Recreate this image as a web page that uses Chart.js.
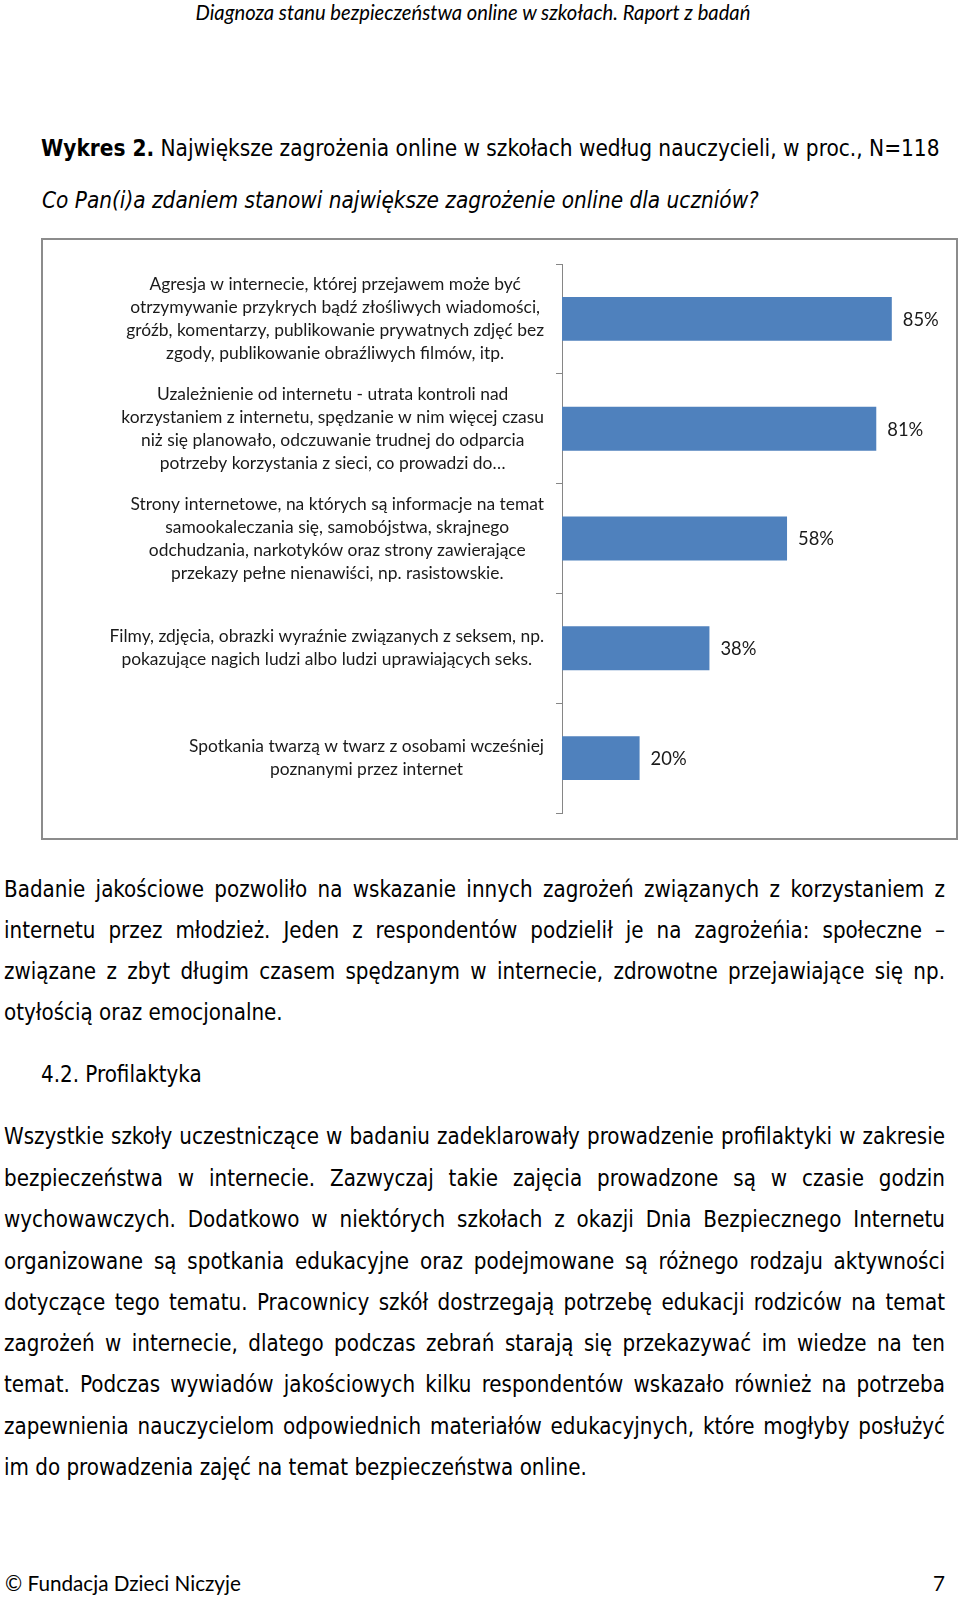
<!DOCTYPE html>
<html><head><meta charset="utf-8">
<script src="https://cdn.jsdelivr.net/npm/chart.js@4.4.0/dist/chart.umd.min.js"></script>
<style>
html,body{margin:0;padding:0;background:#fff;}
body{width:960px;height:1597px;position:relative;overflow:hidden;}
.t{position:absolute;white-space:nowrap;color:#000;left:0;top:0;}
.doc{font-family:"DejaVu Sans Condensed","DejaVu Sans",sans-serif;font-stretch:condensed;font-size:20px;}
.cal{font-family:Lato,"Open Sans",sans-serif;font-size:18px;}
#frame{position:absolute;left:41px;top:238px;width:917px;height:602px;box-sizing:border-box;border:2px solid #8c8c8c;}
#wrap{position:absolute;left:43px;top:240px;width:913px;height:598px;}
</style></head>
<body>
<div id="frame"></div>
<div id="wrap"><canvas id="c"></canvas></div>
<script>
// ---- data ----
const categories = [
  ['Agresja w internecie, której przejawem może być', 'otrzymywanie przykrych bądź złośliwych wiadomości,', 'gróźb, komentarzy, publikowanie prywatnych zdjęć bez', 'zgody, publikowanie obraźliwych filmów, itp.'],
  ['Uzależnienie od internetu - utrata kontroli nad', 'korzystaniem z internetu, spędzanie w nim więcej czasu', 'niż się planowało, odczuwanie trudnej do odparcia', 'potrzeby korzystania z sieci, co prowadzi do…'],
  ['Strony internetowe, na których są informacje na temat', 'samookaleczania się, samobójstwa, skrajnego', 'odchudzania, narkotyków oraz strony zawierające', 'przekazy pełne nienawiści, np. rasistowskie.'],
  ['Filmy, zdjęcia, obrazki wyraźnie związanych z seksem, np.', 'pokazujące nagich ludzi albo ludzi uprawiających seks.'],
  ['Spotkania twarzą w twarz z osobami wcześniej', 'poznanymi przez internet']
];
const values = [85, 81, 58, 38, 20];
const valueSuffix = '%';
const axisMin = 0;
const axisMax = 100;

// ---- page text ----
function mk(cls, html){const e=document.createElement('div');e.className='t '+cls;e.innerHTML=html;document.body.appendChild(e);return e;}
function fitW(el, target){const w=el.getBoundingClientRect().width;const fs=parseFloat(getComputedStyle(el).fontSize);el.style.fontSize=(fs*target/w)+'px';}
function place(el, x, yc, align){const r=el.getBoundingClientRect();let l=x;if(align==='center')l=x-r.width/2;else if(align==='right')l=x-r.width;el.style.left=l+'px';el.style.top=(yc-r.height/2)+'px';}

const hdr=mk('cal','<i>Diagnoza stanu bezpieczeństwa online w szkołach. Raport z badań</i>');
fitW(hdr,555);place(hdr,473,12,'center');

const ttl=mk('doc','<b>Wykres 2.</b> Największe zagrożenia online w szkołach według nauczycieli, w proc., N=118');
fitW(ttl,899);place(ttl,41,148,'left');

const sub=mk('doc','<i>Co Pan(i)a zdaniem stanowi największe zagrożenie online dla uczniów?</i>');
fitW(sub,717);place(sub,42,200,'left');

const bodyLines=[
  ['Badanie jakościowe pozwoliło na wskazanie innych zagrożeń związanych z korzystaniem z',889,true],
  ['internetu przez młodzież. Jeden z respondentów podzielił je na zagrożeńia: społeczne –',930,true],
  ['związane z zbyt długim czasem spędzanym w internecie, zdrowotne przejawiające się np.',971,true],
  ['otyłością oraz emocjonalne.',1012,false],
  ['Wszystkie szkoły uczestniczące w badaniu zadeklarowały prowadzenie profilaktyki w zakresie',1136,true],
  ['bezpieczeństwa w internecie. Zazwyczaj takie zajęcia prowadzone są w czasie godzin',1178,true],
  ['wychowawczych. Dodatkowo w niektórych szkołach z okazji Dnia Bezpiecznego Internetu',1219,true],
  ['organizowane są spotkania edukacyjne oraz podejmowane są różnego rodzaju aktywności',1261,true],
  ['dotyczące tego tematu. Pracownicy szkół dostrzegają potrzebę edukacji rodziców na temat',1302,true],
  ['zagrożeń w internecie, dlatego podczas zebrań starają się przekazywać im wiedze na ten',1343,true],
  ['temat. Podczas wywiadów jakościowych kilku respondentów wskazało również na potrzeba',1384,true],
  ['zapewnienia nauczycielom odpowiednich materiałów edukacyjnych, które mogłyby posłużyć',1426,true],
  ['im do prowadzenia zajęć na temat bezpieczeństwa online.',1467,false]
];
const ref=mk('doc',bodyLines[12][0]);fitW(ref,583);
const bodyFs=ref.style.fontSize;ref.remove();
bodyLines.forEach(([txt,y,just])=>{
  const e=mk('doc',txt);e.style.fontSize=bodyFs;
  if(just){const w=e.getBoundingClientRect().width;const n=(txt.match(/ /g)||[]).length;e.style.wordSpacing=((941-w)/n)+'px';}
  place(e,4,y,'left');
});
const sec=mk('doc','4.2. Profilaktyka');sec.style.fontSize=bodyFs;place(sec,41,1074,'left');

const ft=mk('cal','© Fundacja Dzieci Niczyje');fitW(ft,236);place(ft,5,1583,'left');
const pn=mk('cal','7');pn.style.fontSize=ft.style.fontSize;place(pn,945,1583,'right');

// ---- chart ----
const FONT='Lato';
const mctx=document.createElement('canvas').getContext('2d');
function sizeFor(text,target,weight){mctx.font=(weight||'')+' 100px '+FONT;return 100*target/mctx.measureText(text).width;}
const catFs=(sizeFor(categories[1][1],422)+sizeFor(categories[3][0],437)+sizeFor(categories[4][0],354))/3;
const catLineH=23;
const valFs=sizeFor('85%',36);

const catLabels={
  id:'catLabels',
  afterDraw(chart){
    const ctx=chart.ctx, ys=chart.scales.y;
    const right=chart.chartArea.left-18;
    ctx.save();
    ctx.font=catFs.toFixed(2)+'px '+FONT;
    ctx.fillStyle='#1a1a1a';ctx.textAlign='center';ctx.textBaseline='middle';
    categories.forEach((lines,i)=>{
      const yc=ys.getPixelForValue(i);
      const widest=Math.max(...lines.map(l=>ctx.measureText(l).width));
      const cx=right-widest/2;
      lines.forEach((l,j)=>ctx.fillText(l,cx,yc+(j-(lines.length-1)/2)*catLineH));
    });
    ctx.restore();
  }
};
const valLabels={
  id:'valLabels',
  afterDatasetsDraw(chart){
    const ctx=chart.ctx;const meta=chart.getDatasetMeta(0);
    ctx.save();ctx.font=valFs.toFixed(2)+'px '+FONT;ctx.fillStyle='#1a1a1a';
    ctx.textAlign='left';ctx.textBaseline='middle';
    meta.data.forEach((bar,i)=>ctx.fillText(values[i]+valueSuffix,bar.x+11,bar.y+1));
    ctx.restore();
  }
};

new Chart(document.getElementById('c'),{
  type:'bar',
  data:{labels:categories,datasets:[{data:values,backgroundColor:'#4f81bd',borderWidth:0,categoryPercentage:0.8,barPercentage:0.5}]},
  options:{
    indexAxis:'y',responsive:true,maintainAspectRatio:false,animation:false,devicePixelRatio:1,
    layout:{padding:{left:0,right:6,top:24,bottom:25}},
    plugins:{legend:{display:false},tooltip:{enabled:false},title:{display:false}},
    scales:{
      x:{display:false,min:axisMin,max:axisMax},
      y:{
        offset:true,
        ticks:{display:false},
        grid:{display:true,drawOnChartArea:false,drawTicks:true,tickLength:6,color:'#868686',offset:true},
        border:{display:true,color:'#868686',width:1},
        afterFit(scale){scale.width=519;}
      }
    }
  },
  plugins:[catLabels,valLabels]
});
</script>
</body></html>
